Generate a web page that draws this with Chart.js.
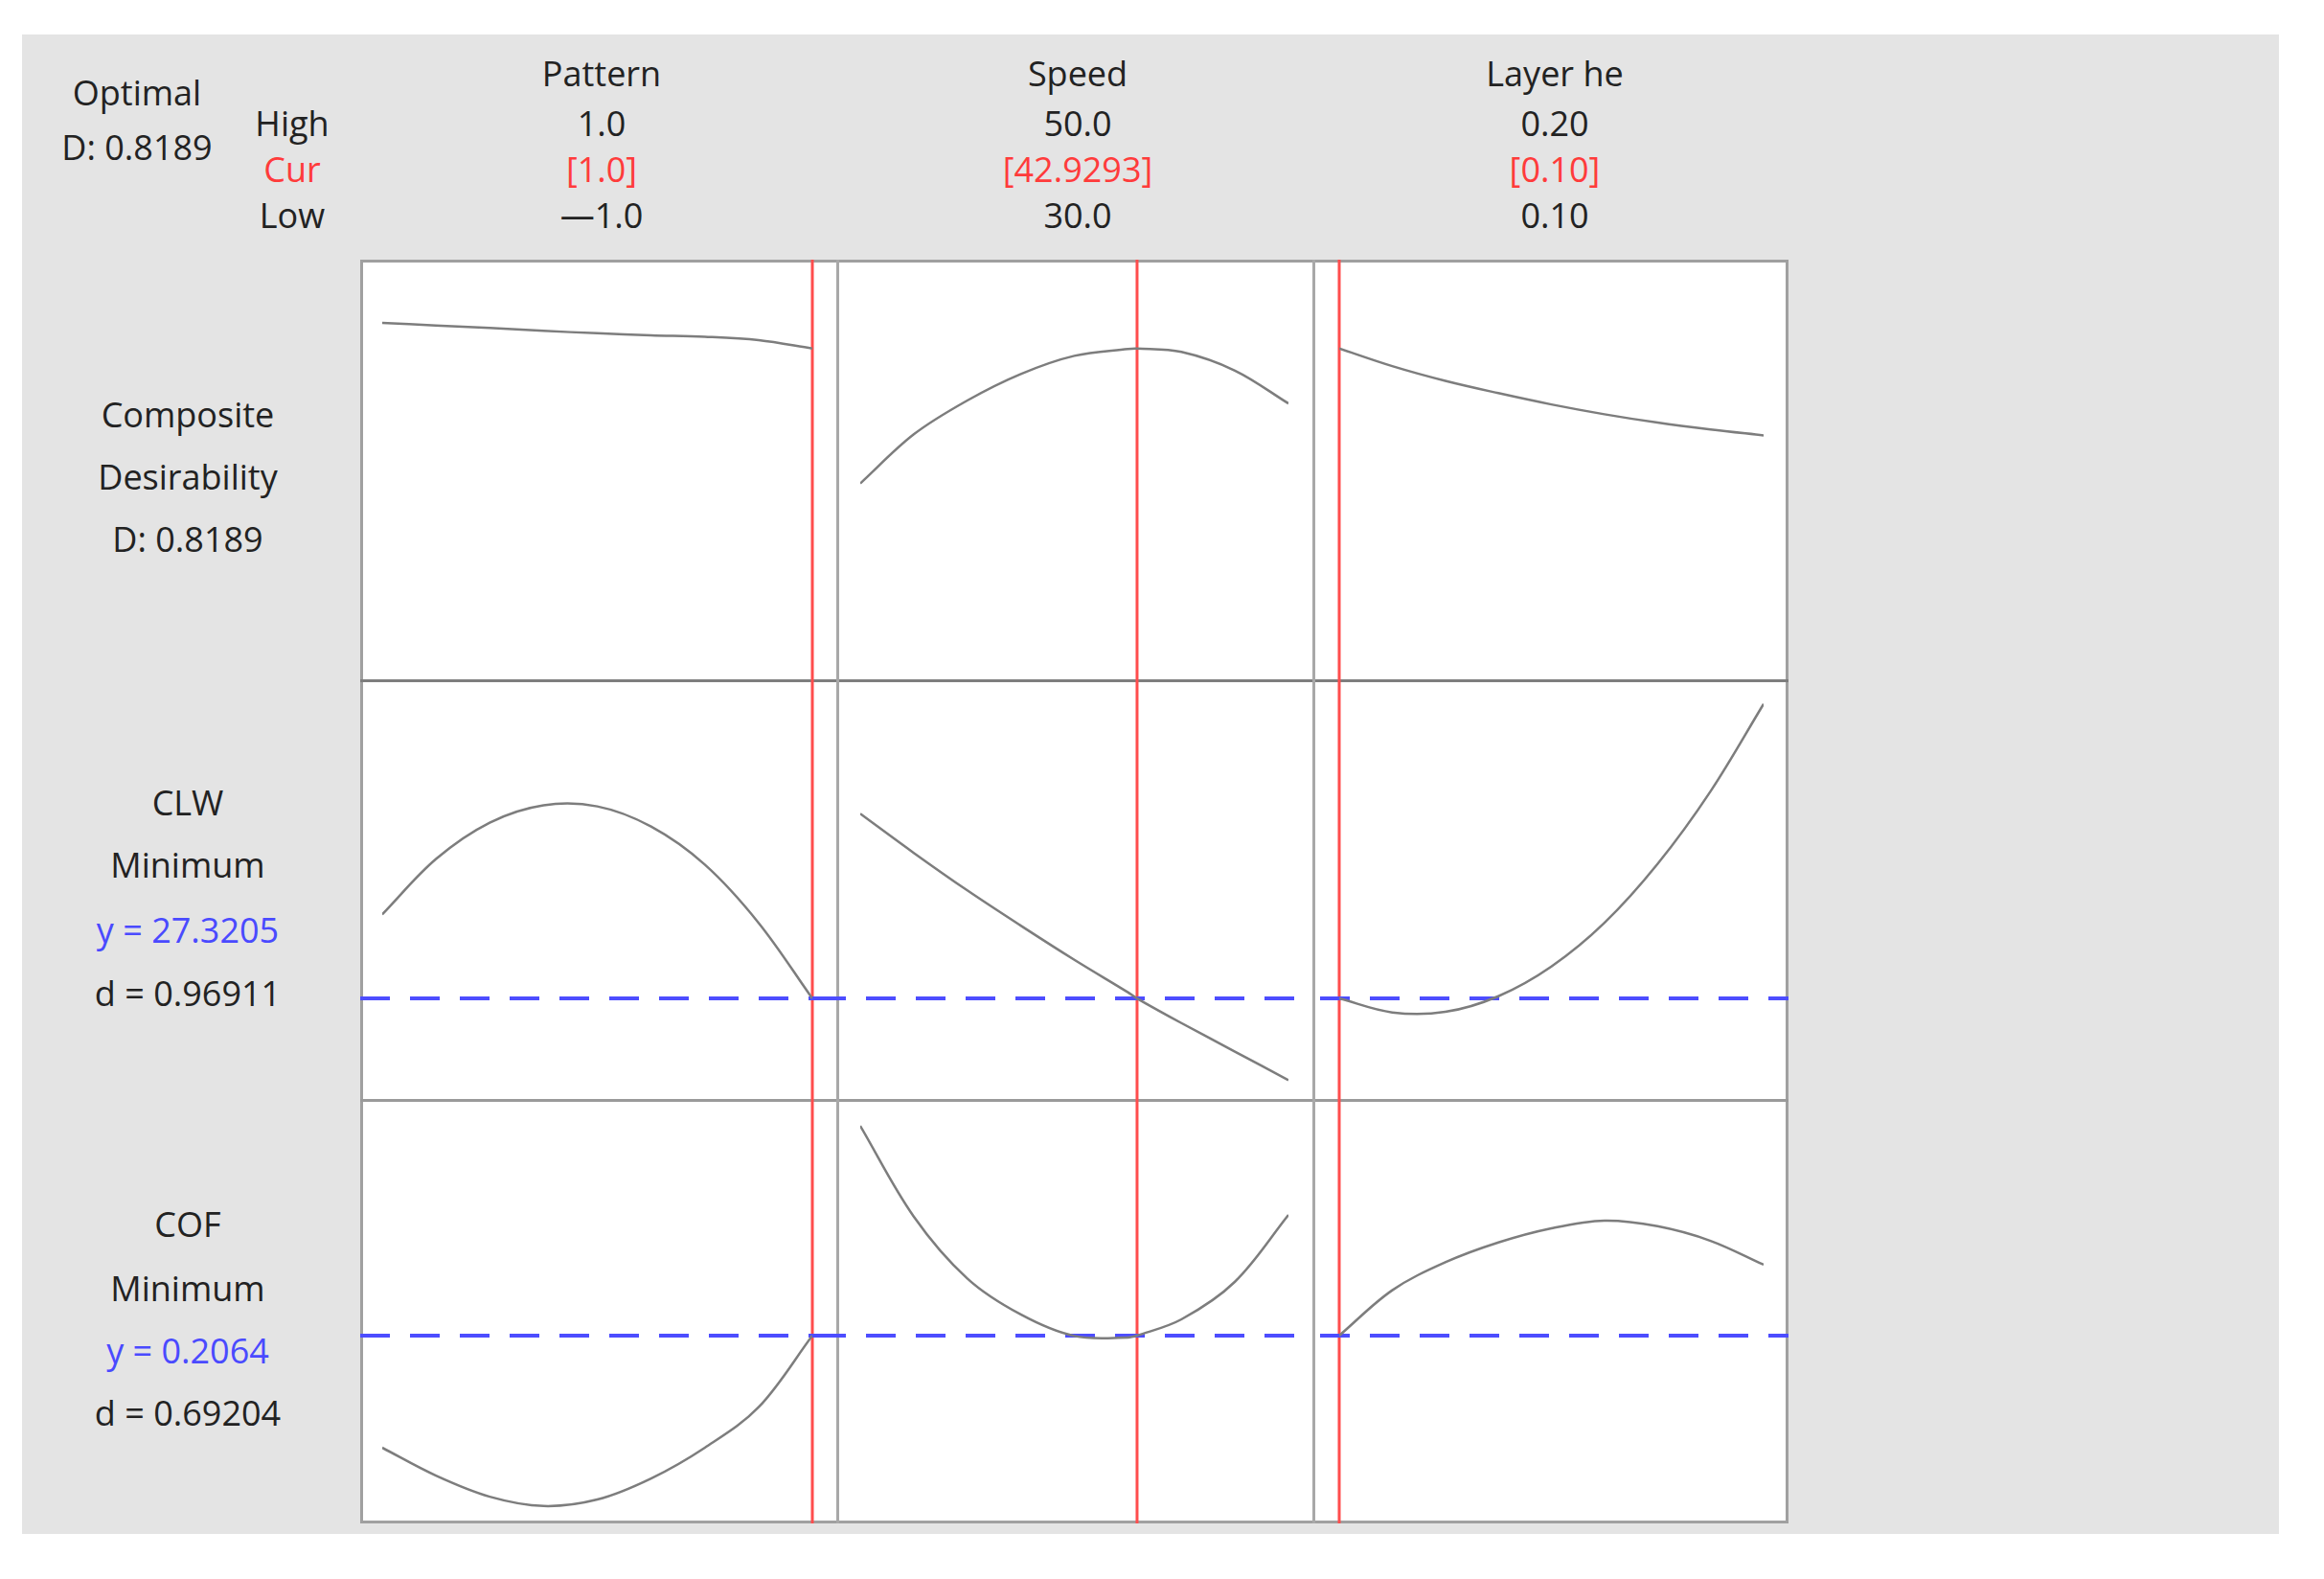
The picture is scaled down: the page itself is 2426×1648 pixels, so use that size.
<!DOCTYPE html>
<html>
<head>
<meta charset="utf-8">
<script src="https://cdn.jsdelivr.net/npm/chart.js@4.4.1/dist/chart.umd.min.js"></script>
<style>
  body { margin: 0; width: 2426px; height: 1648px; background: #fff; position: relative; overflow: hidden; font-family: 'Segoe UI', 'Open Sans', sans-serif; }
  #bg { position: absolute; left: 23px; top: 36px; width: 2356px; height: 1565px; background: #e4e4e4; }
  .lbl { position: absolute; transform: translate(-50%, -50%); font-size: 36px; color: #222; white-space: nowrap; line-height: 1; }
  .red { color: #ff3b3b; }
  .blue { color: #4a4aff; }
  #frame { position: absolute; left: 376px; top: 271px; width: 1491px; height: 1319px; box-sizing: border-box; border: 3px solid #a0a0a0; background: #fff; }
  .rule { position: absolute; }
  canvas { position: absolute; }
</style>
</head>
<body>
<div id="bg"></div>
<div id="frame"></div>
<script>
// factor settings
const factorNames = ['Pattern', 'Speed', 'Layer he'];
const highLabels = ['1.0', '50.0', '0.20'];
const curLabels = ['[1.0]', '[42.9293]', '[0.10]'];
const lowLabels = ['\u20141.0', '30.0', '0.10'];
const currentSettings = [1.0, 42.9293, 0.10];

// responses
const responseLabels = [
    ['Composite', 'Desirability', 'D: 0.8189'],
    ['CLW', 'Minimum', 'y = 27.3205', 'd = 0.96911'],
    ['COF', 'Minimum', 'y = 0.2064', 'd = 0.69204']
];
const responseTargets = [null, 27.3205, 0.2064];
const responseRanges = [[0.143, 1.0], [25.507, 33.003], [0.160, 0.2646]];

// x grids of each factor
const patternX = [-1, -0.75, -0.5, -0.25, 0, 0.25, 0.5, 0.75, 1];
const speedX = [30, 32.5, 35, 37.5, 40, 42.5, 42.9293, 45, 47.5, 50];
const layerX = [0.10, 0.1125, 0.125, 0.1375, 0.15, 0.1625, 0.175, 0.1875, 0.20];

// composite desirability
const compPattern = [0.871, 0.866, 0.861, 0.855, 0.850, 0.846, 0.843, 0.836, 0.819];
const compSpeed = [0.544, 0.644, 0.713, 0.767, 0.804, 0.818, 0.8189, 0.812, 0.774, 0.707];
const compLayer = [0.819, 0.783, 0.753, 0.728, 0.705, 0.685, 0.668, 0.654, 0.642];

// CLW
const clwPattern = [28.82, 29.81, 30.46, 30.77, 30.75, 30.39, 29.71, 28.67, 27.32];
const clwSpeed = [30.62, 29.92, 29.25, 28.62, 28.01, 27.43, 27.32, 26.88, 26.37, 25.86];
const clwLayer = [27.32, 27.07, 27.08, 27.36, 27.89, 28.67, 29.72, 31.02, 32.58];

// COF
const cofPattern = [0.1787, 0.1718, 0.1666, 0.1643, 0.1659, 0.1711, 0.1787, 0.1887, 0.2064];
const cofSpeed = [0.2582, 0.2358, 0.2205, 0.2116, 0.2063, 0.2059, 0.2064, 0.2104, 0.2197, 0.2362];
const cofLayer = [0.2064, 0.2176, 0.2245, 0.2294, 0.2329, 0.2348, 0.2334, 0.2298, 0.2239];

const factorX = [patternX, speedX, layerX];
const responseY = [
    [compPattern, compSpeed, compLayer],
    [clwPattern, clwSpeed, clwLayer],
    [cofPattern, cofSpeed, cofLayer]
];

// layout (px)
const colEdges = [376, 874, 1371, 1867];
const rowEdges = [271, 710, 1148, 1590];
const colPad = [[23, 26], [24, 26], [27, 26]];
const colTextX = [628, 1125, 1623];
const rowTextY = [[433, 498, 563], [838, 903, 971, 1037], [1278, 1345, 1410, 1475]];

const addLabel = (text, x, y, cls) => {
    const el = document.createElement('div');
    el.className = 'lbl' + (cls ? ' ' + cls : '');
    el.textContent = text;
    el.style.left = x + 'px';
    el.style.top = y + 'px';
    document.body.appendChild(el);
};

const addRule = (x, y, w, h, color) => {
    const el = document.createElement('div');
    el.className = 'rule';
    Object.assign(el.style, { left: x + 'px', top: y + 'px', width: w + 'px', height: h + 'px', background: color });
    document.body.appendChild(el);
};

addLabel('Optimal', 143, 97);
addLabel('D: 0.8189', 143, 154);
addLabel('High', 305, 129);
addLabel('Cur', 305, 177, 'red');
addLabel('Low', 305, 225);

factorNames.forEach((name, i) => {
    addLabel(name, colTextX[i], 77);
    addLabel(highLabels[i], colTextX[i], 129);
    addLabel(curLabels[i], colTextX[i], 177, 'red');
    addLabel(lowLabels[i], colTextX[i], 225);
});

responseLabels.forEach((lines, r) => {
    lines.forEach((t, k) => addLabel(t, 196, rowTextY[r][k], t.startsWith('y =') ? 'blue' : ''));
});

addRule(376, rowEdges[1] - 1, 1491, 3, '#7e7e7e');
addRule(376, rowEdges[2] - 1, 1491, 3, '#9a9a9a');
addRule(colEdges[1] - 1, 271, 3, 1319, '#a8a8a8');
addRule(colEdges[2] - 1, 271, 3, 1319, '#a8a8a8');

const refLines = {
    id: 'refLines',
    beforeDatasetsDraw(chart, args, opts) {
        const ctx = chart.ctx;
        const xs = chart.scales.x.getPixelForValue(opts.current);
        ctx.save();
        ctx.strokeStyle = '#ff4d4d';
        ctx.lineWidth = 3;
        ctx.beginPath();
        ctx.moveTo(xs, 0);
        ctx.lineTo(xs, chart.height);
        ctx.stroke();
        if (opts.target !== null) {
            const ys = chart.scales.y.getPixelForValue(opts.target);
            ctx.strokeStyle = '#4d4dff';
            ctx.lineWidth = 4;
            ctx.setLineDash([31, 21]);
            ctx.lineDashOffset = opts.dashOffset;
            ctx.beginPath();
            ctx.moveTo(0, ys);
            ctx.lineTo(chart.width, ys);
            ctx.stroke();
        }
        ctx.restore();
    }
};

for (let r = 0; r < 3; r++) {
    for (let c = 0; c < 3; c++) {
        const canvas = document.createElement('canvas');
        const w = colEdges[c + 1] - colEdges[c];
        const h = rowEdges[r + 1] - rowEdges[r];
        canvas.width = w;
        canvas.height = h;
        canvas.style.left = colEdges[c] + 'px';
        canvas.style.top = rowEdges[r] + 'px';
        document.body.appendChild(canvas);

        const xs = factorX[c];
        const ys = responseY[r][c];
        new Chart(canvas, {
            type: 'line',
            data: {
                datasets: [{
                    data: xs.map((x, i) => ({ x, y: ys[i] })),
                    borderColor: '#7d7d7d',
                    borderWidth: 2.5,
                    pointRadius: 0,
                    tension: 0.35,
                    fill: false
                }]
            },
            options: {
                responsive: false,
                animation: false,
                events: [],
                layout: { padding: { left: colPad[c][0], right: colPad[c][1], top: 0, bottom: 0 } },
                plugins: {
                    legend: { display: false },
                    tooltip: { enabled: false },
                    refLines: { current: currentSettings[c], target: responseTargets[r], dashOffset: -(colEdges[c] - colEdges[0]) }
                },
                scales: {
                    x: { type: 'linear', min: xs[0], max: xs[xs.length - 1], display: false },
                    y: { min: responseRanges[r][0], max: responseRanges[r][1], display: false }
                }
            },
            plugins: [refLines]
        });
    }
}
</script>
</body>
</html>
